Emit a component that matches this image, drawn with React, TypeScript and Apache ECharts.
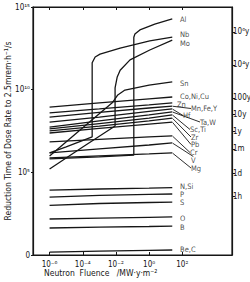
import React, { useEffect, useRef } from "react";
import * as echarts from "echarts";

// ---- data: neutron fluence (MW·y·m⁻²) and reduction time (s) ----
const fluence = [1e-6, 1e-3, 1, 25];
const coNiCu = [8.9e8, 1.6e9, 2.8e9, 3.6e9];
const zn = [3.9e8, 6.8e8, 1.2e9, 1.6e9];
const mnFeY = [2.2e8, 4.2e8, 7.8e8, 1.0e9];
const hf = [1.1e8, 2.2e8, 4.8e8, 6.8e8];
const taW = [5.5e7, 1.3e8, 3.0e8, 4.5e8];
const scTi = [4.2e7, 8.9e7, 1.9e8, 3.0e8];
const zr = [3.2e7, 6.3e7, 1.3e8, 1.9e8];
const pb = [2.4e7, 4.5e7, 8.3e7, 1.1e8];
const cr = [6.9e6, 9.8e6, 1.4e7, 1.6e7];
const v = [1.5e6, 2.6e6, 4.5e6, 6.0e6];
const mg = [7.4e5, 9.8e5, 1.3e6, 1.5e6];
const nSi = [8.5e3, 9.8e3, 1.1e4, 1.2e4];
const p = [3.2e3, 4.0e3, 4.6e3, 4.9e3];
const s = [1.0e3, 1.3e3, 1.5e3, 1.6e3];
const o = [150, 170, 190, 200];
const b = [43, 49, 53, 56];
const beC = [1.5, 1.7, 1.9, 2.0];

const snFluence = [1e-6, 1e-4, 6e-3, 1.3e-2, 3.5e-2, 1, 25];
const sn = [9.8e5, 5.0e7, 1.6e9, 4.8e9, 9.5e9, 1.9e10, 3.0e10];
const alFluence = [1e-6, 1e-3, 0.12, 0.12, 0.14, 0.28, 2.2, 25];
const al = [6.5e5, 8.5e5, 1.1e6, 1.5e13, 2.3e13, 4.1e13, 9.3e13, 1.9e14];
const nbFluence = [1e-6, 1e-5, 3.7e-4, 3.7e-4, 5.6e-4, 1.1e-3, 1.8e-2, 1.1, 25];
const nb = [1.5e6, 3.5e6, 1.4e7, 4.2e11, 9.5e11, 1.4e12, 3.3e12, 8.9e12, 1.5e13];
const moFluence = [1e-6, 1e-4, 8.9e-3, 8.9e-3, 1.2e-2, 1.8e-2, 7.1e-2, 1.1, 25];
const mo = [1.6e5, 3.4e6, 6.3e7, 1.3e10, 5.9e10, 1.5e11, 6.3e11, 2.5e12, 1.0e13];

const elementNames = [
  "Al", "Nb", "Mo", "Sn", "Co,Ni,Cu", "Zn", "Mn,Fe,Y", "Hf", "Ta,W", "Sc,Ti",
  "Zr", "Pb", "Cr", "V", "Mg", "N,Si", "P", "S", "O", "B", "Be,C",
];
const elementFluence = [
  alFluence, nbFluence, moFluence, snFluence, fluence, fluence, fluence, fluence,
  fluence, fluence, fluence, fluence, fluence, fluence, fluence, fluence, fluence,
  fluence, fluence, fluence, fluence,
];
const elementTimes = [
  al, nb, mo, sn, coNiCu, zn, mnFeY, hf, taW, scTi, zr, pb, cr, v, mg, nSi, p, s, o, b, beC,
];

const xTickExponents = [-6, -4, -2, 0, 2];
const leftTickExponents = [0, 5, 10, 15];
const rightTickSeconds = [3.156e13, 3.156e11, 3.156e9, 3.156e8, 3.156e7, 2.63e6, 86400, 3600];
const rightTickLabels = ["10⁶y", "10⁴y", "100y", "10y", "1y", "1m", "1d", "1h"];

// ---- layout (label text anchor positions, px) ----
const labelPos: Record<string, [number, number]> = {
  Al: [180, 19], Nb: [180, 34], Mo: [180, 43], Sn: [180, 83], "Co,Ni,Cu": [180, 96.5],
  Zn: [177, 104], "Mn,Fe,Y": [191, 108.5], Hf: [183, 115.5], "Ta,W": [200, 122],
  "Sc,Ti": [190, 129.5], Zr: [191, 137], Pb: [191, 144.5], Cr: [190, 152.5], V: [191, 160.5],
  Mg: [191, 168], "N,Si": [180, 186.5], P: [180, 194.5], S: [180, 202], O: [180, 218],
  B: [180, 227], "Be,C": [180, 249],
};
const withLeader = ["Mn,Fe,Y", "Hf", "Ta,W", "Sc,Ti", "Zr", "Pb", "Cr", "V", "Mg"];

const SUP: Record<string, string> = {
  "-": "⁻", "0": "⁰", "1": "¹", "2": "²", "3": "³", "4": "⁴", "5": "⁵", "6": "⁶", "7": "⁷", "8": "⁸", "9": "⁹",
};
const sup = (t: string) => t.split("").map((c) => SUP[c] ?? c).join("");
const FONT = "'DejaVu Sans Condensed', 'DejaVu Sans', sans-serif";
const INK = "#161616";

export default function App() {
  const ref = useRef<HTMLDivElement>(null);
  useEffect(() => {
    if (!ref.current) return;
    const chart = echarts.init(ref.current, undefined, { renderer: "svg" });
    const lg = Math.log10;

    const lineSeries = elementNames.map((name, i) => ({
      name,
      type: "line",
      xAxisIndex: 0,
      yAxisIndex: 0,
      showSymbol: false,
      silent: true,
      color: INK,
      lineStyle: { color: INK, width: 1.3 },
      data: elementFluence[i].map((f, j) => [lg(f), lg(elementTimes[i][j])]),
    }));

    const makeLabelSeries = (names: string[], leader: boolean) => ({
      type: "scatter",
      xAxisIndex: 0,
      yAxisIndex: 0,
      symbolSize: 1,
      silent: true,
      color: INK,
      itemStyle: { color: "rgba(0,0,0,0)" },
      data: names.map((n) => {
        const i = elementNames.indexOf(n);
        const fl = elementFluence[i];
        const tm = elementTimes[i];
        return { name: n, value: [lg(fl[fl.length - 1]), lg(tm[tm.length - 1])] };
      }),
      label: {
        show: true,
        position: "right",
        formatter: (pp: any) => pp.name,
        color: INK,
        textBorderWidth: 0,
        fontSize: 7.5,
        lineHeight: 7,
        fontFamily: FONT,
        align: "left",
        verticalAlign: "middle",
      },
      labelLine: leader
        ? { show: true, length2: 0, lineStyle: { color: INK, width: 0.9 } }
        : { show: false },
      labelLayout: (pp: any) => {
        const pos = labelPos[names[pp.dataIndex]];
        return { x: pos[0], y: pos[1], align: "left", verticalAlign: "middle" };
      },
    });

    const axisLineStyle = { onZero: false, lineStyle: { color: INK, width: 1.2 } };

    chart.setOption({
      animation: false,
      backgroundColor: "#ffffff",
      grid: {
        left: 33, right: 18, top: 7, bottom: 27,
        outerBoundsMode: "none",
        containLabel: false,
        show: true, borderColor: INK, borderWidth: 1.2, backgroundColor: "transparent",
      },
      xAxis: [
        {
          type: "value", min: -7, max: 5, position: "bottom",
          splitLine: { show: false },
          axisLine: axisLineStyle,
          axisTick: { inside: true, length: 3, customValues: xTickExponents, lineStyle: { color: INK } },
          axisLabel: {
            customValues: xTickExponents, margin: 5, color: INK, fontSize: 8, fontFamily: FONT,
            formatter: (val: number) => "10" + sup(String(Math.round(val))),
          },
        },
        {
          type: "value", min: -7, max: 5, position: "top",
          splitLine: { show: false },
          axisLine: axisLineStyle,
          axisTick: { inside: true, length: 3, customValues: xTickExponents, lineStyle: { color: INK } },
          axisLabel: { show: false },
        },
      ],
      yAxis: [
        {
          type: "value", min: 0, max: 15, interval: 5, position: "left",
          splitLine: { show: false },
          axisLine: axisLineStyle,
          axisTick: { length: 2, lineStyle: { color: INK } },
          axisLabel: {
            customValues: leftTickExponents, margin: 3, color: INK, fontSize: 8, fontFamily: FONT,
            formatter: (val: number) => (val === 0 ? "0" : "10" + sup(String(Math.round(val)))),
          },
          name: "Reduction Time of Dose Rate to 2.5mrem·h⁻¹/s",
          nameLocation: "middle",
          nameGap: 21,
          nameMoveOverlap: false,
          nameTextStyle: { color: INK, fontSize: 8.5, fontFamily: FONT },
        },
        {
          type: "value", min: 0, max: 15, position: "right",
          splitLine: { show: false },
          axisLine: axisLineStyle,
          axisTick: {
            length: 3, customValues: rightTickSeconds.map((t) => Math.log10(t)),
            lineStyle: { color: INK },
          },
          axisLabel: {
            customValues: rightTickSeconds.map((t) => Math.log10(t)),
            margin: 1, color: INK, fontSize: 8, fontFamily: FONT,
            formatter: (val: number) => {
              const k = rightTickSeconds.findIndex((t) => Math.abs(Math.log10(t) - val) < 1e-6);
              return k >= 0 ? rightTickLabels[k] : "";
            },
          },
        },
      ],
      graphic: [
        {
          type: "text", left: 44, top: 268,
          style: { text: "Neutron  Fluence   /MW·y·m⁻²", fill: INK, fontSize: 8.5, fontFamily: FONT },
        },
      ],
      series: [
        ...lineSeries,
        makeLabelSeries(elementNames.filter((n) => !withLeader.includes(n)), false),
        makeLabelSeries(withLeader, true),
      ],
    });
    return () => chart.dispose();
  }, []);
  return (
    <div
      ref={ref}
      style={{ position: "fixed", left: 0, top: 0, width: 250, height: 282, background: "#fff" }}
    />
  );
}
